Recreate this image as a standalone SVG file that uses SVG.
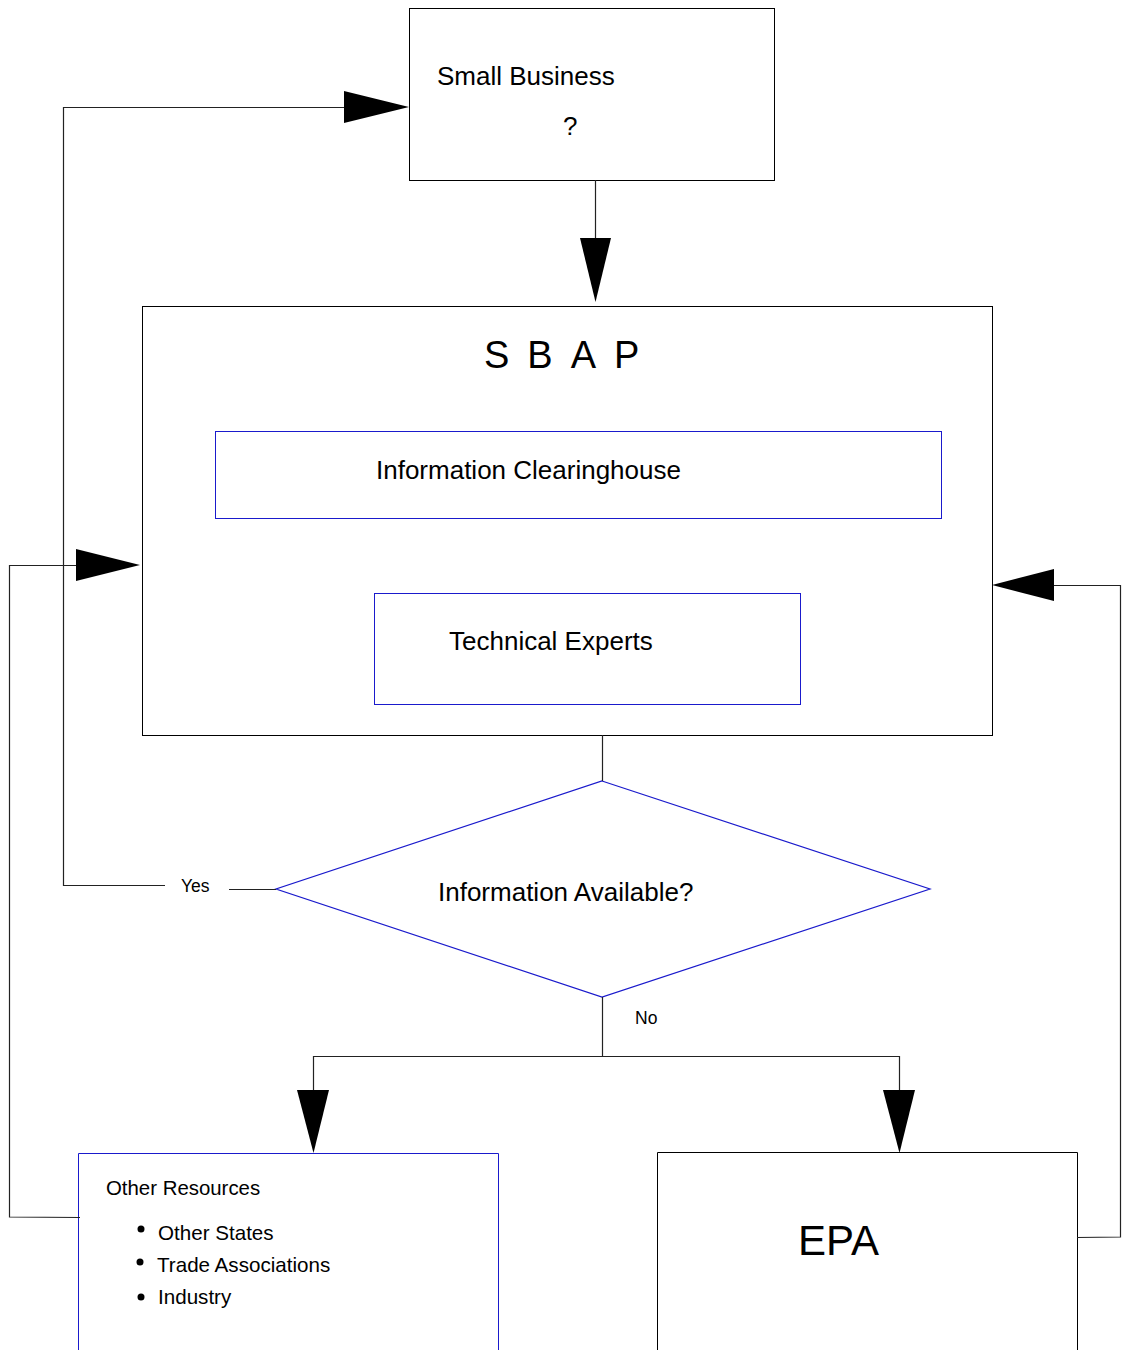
<svg xmlns="http://www.w3.org/2000/svg" width="1126" height="1350" viewBox="0 0 1126 1350">
<style>
.box{fill:#fff;stroke:#000;stroke-width:1}
.bbox{fill:#fff;stroke:#1a1acc;stroke-width:1}
.ln{fill:none;stroke:#222;stroke-width:1.2}
.ah{fill:#000;stroke:none}
text{font-family:"Liberation Sans",Arial,sans-serif;fill:#000}
</style>
<rect width="1126" height="1350" fill="#fff"/>
<g id="small-business">
<rect class="box" x="409.5" y="8.5" width="365" height="172"/>
<text x="437" y="85" font-size="26">Small Business</text>
<text x="563" y="135" font-size="26">?</text>
</g>
<g id="sbap">
<rect class="box" x="142.5" y="306.5" width="850" height="429"/>
<text x="484" y="368" font-size="38" letter-spacing="18">SBAP</text>
</g>
<g id="info-clearinghouse">
<rect class="bbox" x="215.5" y="431.5" width="726" height="87"/>
<text x="376" y="479" font-size="26">Information Clearinghouse</text>
</g>
<g id="technical-experts">
<rect class="bbox" x="374.5" y="593.5" width="426" height="111"/>
<text x="449" y="650" font-size="26">Technical Experts</text>
</g>
<g id="decision">
<polygon points="602,781 930,889 602,997 276,889" fill="#fff" stroke="#1a1acc" stroke-width="1.2"/>
<text x="438" y="901" font-size="26">Information Available?</text>
</g>
<g id="other-resources">
<path class="bbox" d="M78.5,1360 V1153.5 H498.5 V1360" fill="#fff"/>
<text x="106" y="1195" font-size="20.4">Other Resources</text>
<circle cx="141" cy="1229" r="3.5" fill="#000"/>
<circle cx="140" cy="1262" r="3.5" fill="#000"/>
<circle cx="141" cy="1297" r="3.5" fill="#000"/>
<text x="158" y="1240" font-size="20.6">Other States</text>
<text x="157" y="1272" font-size="20.6">Trade Associations</text>
<text x="158" y="1304" font-size="20.6">Industry</text>
</g>
<g id="epa">
<path class="box" d="M657.5,1360 V1152.5 H1077.5 V1360"/>
<text x="798" y="1255" font-size="42">EPA</text>
</g>
<g id="connectors">
<path class="ln" d="M595.5,180 V240"/>
<polygon class="ah" points="580,238 611,238 595.5,302"/>
<path class="ln" d="M602.5,735 V781"/>
<path class="ln" d="M276,889.5 H229"/>
<text x="181" y="892" font-size="17.5">Yes</text>
<path class="ln" d="M165,885.5 H63.5 V107.5 H346"/>
<polygon class="ah" points="344,91 344,123 409,107"/>
<path class="ln" d="M602.5,997 V1056.5"/>
<text x="635" y="1024" font-size="17.5">No</text>
<path class="ln" d="M313.5,1092 V1056.5 H899.5 V1092"/>
<polygon class="ah" points="297,1090 329,1090 313.5,1153"/>
<polygon class="ah" points="883,1090 915,1090 899.5,1153"/>
<path class="ln" d="M80,1217.5 L9.5,1217 V565.5 H78"/>
<polygon class="ah" points="76,549 76,581 140,565"/>
<path class="ln" d="M1077,1237.5 L1120.5,1237 V585.5 H1052"/>
<polygon class="ah" points="1054,569 1054,601 992,585"/>
</g>
</svg>
